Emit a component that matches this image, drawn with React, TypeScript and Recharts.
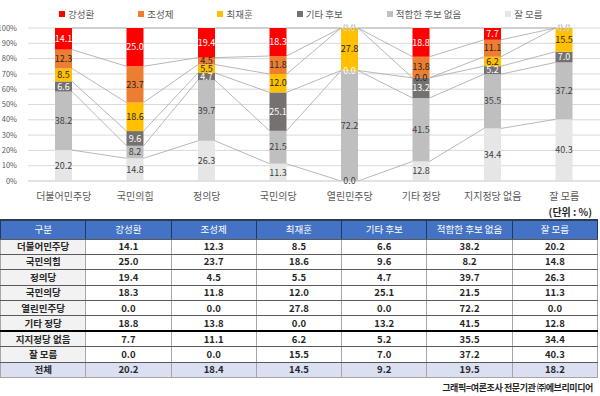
import React from "react";
import { BarChart, Bar, XAxis, YAxis, CartesianGrid, LabelList } from "recharts";

const parties = [
  "더불어민주당",
  "국민의힘",
  "정의당",
  "국민의당",
  "열린민주당",
  "기타 정당",
  "지지정당 없음",
  "잘 모름",
];

// 응답 항목 (표 순서)
const answers = ["강성환", "조성제", "최재훈", "기타 후보", "적합한 후보 없음", "잘 모름"];

const kang = [14.1, 25.0, 19.4, 18.3, 0.0, 18.8, 7.7, 0.0];
const jo = [12.3, 23.7, 4.5, 11.8, 0.0, 13.8, 11.1, 0.0];
const choi = [8.5, 18.6, 5.5, 12.0, 27.8, 0.0, 6.2, 15.5];
const otherCand = [6.6, 9.6, 4.7, 25.1, 0.0, 13.2, 5.2, 7.0];
const noneFit = [38.2, 8.2, 39.7, 21.5, 72.2, 41.5, 35.5, 37.2];
const dontKnow = [20.2, 14.8, 26.3, 11.3, 0.0, 12.8, 34.4, 40.3];

const totalRow = [20.2, 18.4, 14.5, 9.2, 19.5, 18.2];

const yTicks = [0, 0.1, 0.2, 0.3, 0.4, 0.5, 0.6, 0.7, 0.8, 0.9, 1];

const seriesValues = [kang, jo, choi, otherCand, noneFit, dontKnow];
const keys = ["kang", "jo", "choi", "other", "none", "dunno"];

// styles per answer, same order as answers
const fills = ["#FF0000", "#ED7D31", "#FFC000", "#767171", "#BFBFBF", "#E7E6E6"];
const labelColors = ["#FFFFFF", "#262626", "#262626", "#FFFFFF", "#404040", "#404040"];

const data = parties.map((p, i) => {
  const row: Record<string, any> = { name: p };
  keys.forEach((k, s) => (row[k] = seriesValues[s][i]));
  return row;
});

// bottom -> top
const stackOrder = [5, 4, 3, 2, 1, 0];

const W = 600;
const H = 212;
const MARGIN = { top: 28, right: 0, bottom: 0, left: 0 };
const Y_W = 28;
const X_H = 31;
const STEP = (W - MARGIN.left - MARGIN.right - Y_W) / parties.length;
const FONT = "'Noto Sans CJK KR', 'Noto Sans', sans-serif";

// cumulative share up to the top of series at stack position pos
const cumTop = (pos: number, i: number) => {
  let sum = 0;
  let all = 0;
  stackOrder.forEach((s, p) => {
    if (p <= pos) sum += seriesValues[s][i];
    all += seriesValues[s][i];
  });
  return all ? sum / all : 0;
};

const makeShape = (pos: number, fill: string) => (props: any) => {
  const { x, y, width, height, index, background } = props;
  const plotTop = background?.y ?? MARGIN.top;
  const plotH = background?.height ?? H - MARGIN.top - MARGIN.bottom - X_H;
  const hasNext = index < parties.length - 1;
  const ny = plotTop + plotH * (1 - cumTop(pos, index + 1));
  return (
    <g>
      <rect x={x} y={y} width={width} height={Math.max(0, height)} fill={fill} />
      {hasNext && (
        <line x1={x + width} y1={y} x2={x + STEP} y2={ny} stroke="#A6A6A6" strokeWidth={0.8} />
      )}
    </g>
  );
};

const legendOrder = [0, 1, 2, 3, 4, 5];

const cell: React.CSSProperties = {
  borderLeft: "1px solid #A6A6A6",
  borderRight: "1px solid #A6A6A6",
  borderBottom: "1px solid #595959",
  textAlign: "center",
  padding: 0,
  fontWeight: 700,
  color: "#262626",
};

export default function App() {
  return (
    <div
      style={{
        position: "absolute",
        left: 0,
        top: 0,
        width: W,
        height: 396,
        background: "#fff",
        fontFamily: FONT,
        overflow: "hidden",
      }}
    >
      <div
        style={{
          position: "absolute",
          top: 7,
          left: 59,
          display: "flex",
          gap: 44,
          fontSize: 9.5,
          color: "#595959",
          lineHeight: "14px",
        }}
      >
        {legendOrder.map((s) => (
          <div key={s} style={{ display: "flex", alignItems: "center" }}>
            <span style={{ width: 6, height: 6, background: fills[s], marginRight: 3 }} />
            {answers[s]}
          </div>
        ))}
      </div>

      <BarChart
        width={W}
        height={H}
        data={data}
        margin={MARGIN}
        stackOffset="expand"
        barSize={17}
        style={{ position: "absolute", top: 0, left: 0 }}
      >
        <CartesianGrid vertical={false} stroke="#D9D9D9" />
        <XAxis
          dataKey="name"
          height={X_H}
          tickLine={false}
          axisLine={{ stroke: "#D9D9D9" }}
          tickMargin={6}
          interval={0}
          tick={{ fontSize: 10, fill: "#595959", fontFamily: FONT }}
        />
        <YAxis
          width={Y_W}
          domain={[0, 1]}
          ticks={yTicks}
          interval={0}
          tickFormatter={(v: number) => `${Math.round(v * 100)}%`}
          axisLine={false}
          tickLine={false}
          tickMargin={5}
          tick={{ fontSize: 7.5, fill: "#595959", fontFamily: FONT }}
        />
        {stackOrder.map((s, pos) => (
          <Bar
            key={keys[s]}
            dataKey={keys[s]}
            name={answers[s]}
            stackId="a"
            fill={fills[s]}
            isAnimationActive={false}
            shape={makeShape(pos, fills[s])}
          >
            <LabelList
              dataKey={keys[s]}
              position="center"
              formatter={(v: any) => Number(v).toFixed(1)}
              style={{ fontSize: 9, fill: labelColors[s], fontFamily: FONT }}
            />
          </Bar>
        ))}
      </BarChart>

      <div
        style={{
          position: "absolute",
          top: 204,
          right: 8,
          fontSize: 10,
          fontWeight: 700,
          color: "#262626",
        }}
      >
        (단위 : %)
      </div>

      <table
        style={{
          position: "absolute",
          top: 219,
          left: 0,
          width: 598,
          borderCollapse: "collapse",
          tableLayout: "fixed",
          fontSize: 9.5,
          lineHeight: 1,
        }}
      >
        <thead>
          <tr style={{ height: 19 }}>
            {["구분", ...answers].map((h) => (
              <th
                key={h}
                style={{
                  background: "#4472C4",
                  color: "#fff",
                  fontWeight: 400,
                  borderTop: "2px solid #2F3B52",
                  borderLeft: "1px solid #203864",
                  borderRight: "1px solid #203864",
                  borderBottom: "1px solid #595959",
                  padding: 0,
                }}
              >
                {h}
              </th>
            ))}
          </tr>
        </thead>
        <tbody>
          {parties.map((p, i) => (
            <tr key={p} style={{ height: 15.4 }}>
              <td
                style={{
                  ...cell,
                  background: "#F2F2F2",
                  borderBottom: i === 5 ? "2px solid #000" : cell.borderBottom,
                }}
              >
                {p}
              </td>
              {seriesValues.map((vals, s) => (
                <td
                  key={s}
                  style={{
                    ...cell,
                    borderBottom: i === 5 ? "2px solid #000" : cell.borderBottom,
                  }}
                >
                  {vals[i].toFixed(1)}
                </td>
              ))}
            </tr>
          ))}
          <tr style={{ height: 15.4, background: "#DADFF2" }}>
            <td style={{ ...cell, borderBottom: "1px solid #A6A6A6" }}>전체</td>
            {totalRow.map((v, s) => (
              <td key={s} style={{ ...cell, borderBottom: "1px solid #A6A6A6" }}>
                {v.toFixed(1)}
              </td>
            ))}
          </tr>
        </tbody>
      </table>

      <div
        style={{
          position: "absolute",
          top: 381,
          right: 7,
          fontSize: 9,
          fontWeight: 700,
          letterSpacing: -0.4,
          color: "#262626",
        }}
      >
        그래픽=여론조사 전문기관 ㈜에브리미디어
      </div>
    </div>
  );
}
